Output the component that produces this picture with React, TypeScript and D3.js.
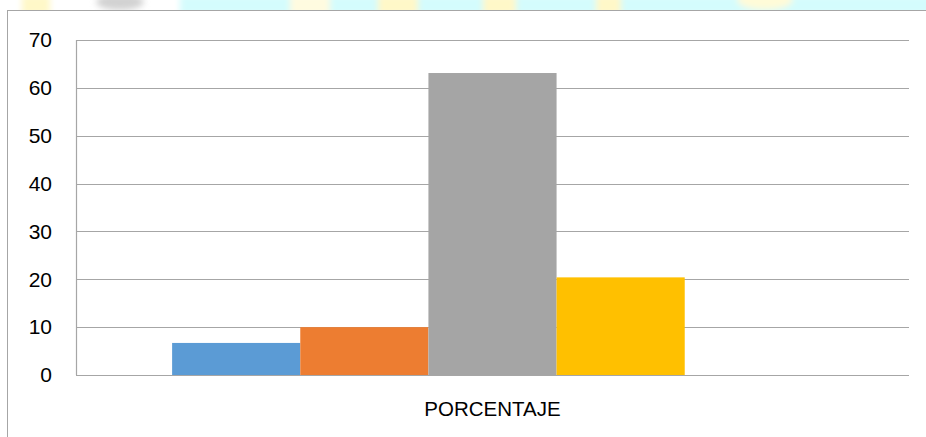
import React from "react";
import * as d3 from "d3";

const categories = ["PORCENTAJE"];
const seriesNames = ["S1", "S2", "S3", "S4", "S5"];
const seriesValues = [6.7, 10, 63.1, 20.4, 0];
const seriesColors = ["#5b9bd5", "#ed7d31", "#a5a5a5", "#ffc000", "#4472c4"];
const yTicks = [0, 10, 20, 30, 40, 50, 60, 70];

const W = 926;
const H = 437;
const plot = { left: 76, right: 909, top: 40, bottom: 375 };

export default function App() {
  const x0 = d3
    .scaleBand<string>()
    .domain(categories)
    .range([plot.left, plot.right])
    .paddingInner(0)
    .paddingOuter(0.15);
  const x1 = d3
    .scaleBand<string>()
    .domain(seriesNames)
    .range([0, x0.bandwidth()])
    .padding(0);
  const y = d3.scaleLinear().domain([0, 70]).range([plot.bottom, plot.top]);

  const font = "'Liberation Sans', Arial, sans-serif";

  return (
    <div style={{ position: "fixed", left: 0, top: 0, width: W, height: H, background: "#fff" }}>
      <svg width={W} height={H} viewBox={`0 0 ${W} ${H}`} style={{ display: "block" }}>
        <defs>
          <filter id="blur" x="-20%" y="-50%" width="140%" height="200%">
            <feGaussianBlur stdDeviation="3" />
          </filter>
          <clipPath id="topclip">
            <rect x={0} y={0} width={W} height={10} />
          </clipPath>
        </defs>
        {/* watermark strip at top */}
        <g clipPath="url(#topclip)">
          <rect x={0} y={0} width={W} height={10} fill="#ffffff" />
          <g filter="url(#blur)">
            <rect x={180} y={-5} width={760} height={20} fill="#d4fcfd" />
            <rect x={22} y={-5} width={28} height={20} fill="#fff8c8" />
            <ellipse cx={120} cy={2} rx={24} ry={8} fill="#d2d2d2" />
            <rect x={290} y={-5} width={40} height={20} fill="#fffbe0" />
            <rect x={378} y={-5} width={40} height={20} fill="#fff8c8" />
            <rect x={483} y={-5} width={33} height={20} fill="#fff8c8" />
            <rect x={596} y={-5} width={25} height={20} fill="#fff8c8" />
            <ellipse cx={765} cy={0} rx={28} ry={10} fill="#fffbd8" />
          </g>
        </g>
        {/* chart frame */}
        <rect x={7.5} y={10.5} width={W} height={H} fill="#fff" stroke="#a6a6a6" strokeWidth={1} />

        {/* gridlines */}
        {yTicks.map((t) => (
          <line
            key={t}
            x1={plot.left}
            x2={plot.right}
            y1={Math.round(y(t)) + 0.5}
            y2={Math.round(y(t)) + 0.5}
            stroke="#a6a6a6"
            strokeWidth={1.2}
          />
        ))}
        {/* y axis line */}
        <line
          x1={plot.left + 0.5}
          x2={plot.left + 0.5}
          y1={y(70)}
          y2={y(0)}
          stroke="#a6a6a6"
          strokeWidth={1.2}
        />

        {/* bars */}
        {categories.map((c) => (
          <g key={c} transform={`translate(${x0(c)},0)`}>
            {seriesNames.map((s, i) =>
              seriesValues[i] > 0 ? (
                <rect
                  key={s}
                  x={x1(s)}
                  y={y(seriesValues[i])}
                  width={x1.bandwidth()}
                  height={y(0) - y(seriesValues[i])}
                  fill={seriesColors[i]}
                />
              ) : null
            )}
          </g>
        ))}
        {/* baseline over bars */}
        <line
          x1={plot.left}
          x2={plot.right}
          y1={Math.round(y(0)) + 0.5}
          y2={Math.round(y(0)) + 0.5}
          stroke="#a6a6a6"
          strokeWidth={1.2}
        />

        {/* y tick labels */}
        {yTicks.map((t) => (
          <text
            key={t}
            x={52}
            y={y(t)}
            dy="0.35em"
            textAnchor="end"
            fontFamily={font}
            fontSize={21}
            fill="#000"
          >
            {t}
          </text>
        ))}

        {/* category label */}
        {categories.map((c) => (
          <text
            key={c}
            x={(x0(c) ?? 0) + x0.bandwidth() / 2}
            y={409}
            dy="0.35em"
            textAnchor="middle"
            fontFamily={font}
            fontSize={20.5}
            fill="#000"
          >
            {c}
          </text>
        ))}
      </svg>
    </div>
  );
}
